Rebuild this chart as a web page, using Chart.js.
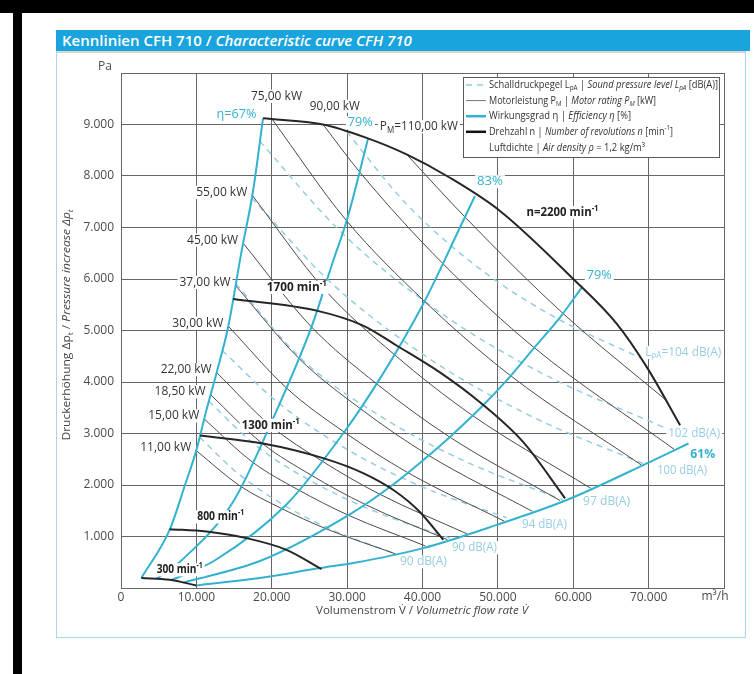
<!DOCTYPE html>
<html>
<head>
<meta charset="utf-8">
<script src="https://cdn.jsdelivr.net/npm/chart.js@4.4.1/dist/chart.umd.min.js"></script>
<style>
  html, body { margin:0; padding:0; background:#fff; }
  body { width:754px; height:674px; position:relative; overflow:hidden; font-family:"Open Sans", sans-serif; }
  .blk { position:absolute; background:#000; }
  #panel { position:absolute; left:56px; top:30px; width:690px; height:608px; border:1px solid #a6d9e7; box-sizing:border-box; background:#fff; }
  #head { position:absolute; left:56px; top:30px; width:694px; height:21px; background:#19a4de; color:#fff; font-weight:600; font-size:15px; line-height:21px; padding-left:6px; box-sizing:border-box; white-space:nowrap; }
  #rule { position:absolute; left:57px; top:51px; width:688px; height:2px; background:#d6d6d6; }
  #chart { position:absolute; left:0; top:0; }
</style>
</head>
<body>
<div class="blk" style="left:0;top:0;width:754px;height:13px"></div>
<div class="blk" style="left:13px;top:0;width:9px;height:674px"></div>
<div id="panel"></div>
<div id="head">Kennlinien CFH 710 / <i>Characteristic curve CFH 710</i></div>
<div id="rule"></div>
<canvas id="chart" width="754" height="674"></canvas>
<script>
// Points are [volumetric flow rate in m³/h, pressure increase in Pa]

// Speed curves (min⁻¹)
const rpm300  = [[2700,194],[6450,161],[10000,50]];
const rpm800  = [[6450,1142],[11330,1095],[16640,968],[21950,741],[26600,368]];
const rpm1300 = [[10500,2960],[18840,2806],[26810,2522],[32120,2232],[36330,1884],[39650,1477],[42750,935]];
const rpm1700 = [[14870,5613],[25940,5386],[32120,5096],[36560,4709],[42310,4186],[47620,3606],[53370,2831],[58910,1742]];
const rpm2200 = [[18840,9121],[26810,9000],[32580,8740],[37890,8419],[43640,7966],[50280,7322],[60010,6000],[65780,5129],[69760,4289],[74180,3160]];

// Efficiency lines
const eta67  = [[2700,194],[6450,1128],[8580,2038],[10000,2677],[11330,3451],[12660,4167],[14200,5057],[15980,6528],[17520,7709],[18840,9121]];
const eta79a = [[4700,177],[7900,520],[14900,1680],[20200,3300],[25300,5080],[28100,6330],[30000,7160],[32800,8740]];
const eta83  = [[6750,155],[12430,534],[21950,1620],[29470,3000],[34500,4100],[40090,5516],[44970,7000],[46960,7613]];
const eta79b = [[8250,105],[18600,534],[30360,1430],[35670,1960],[40090,2483],[43640,2934],[47620,3484],[51170,4031],[54700,4645],[58250,5256],[61140,5837]];
const eta61  = [[10000,50],[18410,194],[26370,387],[31020,490],[40090,774],[49840,1225],[59140,1709],[70200,2450],[75290,2806]];

// Motor rating lines (kW)
const kw11  = [[9980,2668],[15755,1986],[21201,1551],[27222,1149],[36422,663]];
const kw15  = [[11040,3282],[17471,2442],[23510,1907],[30186,1412],[40389,816]];
const kw185 = [[11890,3752],[18736,2808],[25213,2193],[32372,1624],[43314,938]];
const kw22  = [[12690,4184],[19849,3152],[26711,2461],[34296,1823],[45888,1053]];
const kw30  = [[14240,5083],[22011,3876],[29621,3027],[38032,2242],[50887,1295]];
const kw37  = [[15190,5875],[23605,4458],[31766,3481],[40786,2578],[54572,1489]];
const kw45  = [[16200,6697],[25197,5080],[33908,3966],[43536,2938],[58251,1697]];
const kw55  = [[17410,7625],[26941,5807],[36254,4534],[46549,3358],[62282,1939]];
const kw75  = [[19960,9120],[29875,7141],[40203,5576],[51619,4130],[69066,2385]];
const kw90  = [[26810,9000],[31746,8063],[42721,6296],[54853,4663],[73392,2693]];
const kw110 = [[37890,8419],[45676,7197],[58647,5331],[72200,3660]];

// Sound pressure level lines (dB(A))
const db90a = [[10440,2928],[15560,2218],[21980,1577],[28380,1105],[36070,683]];
const db90b = [[11660,3627],[17720,2787],[25820,2028],[33920,1473],[43640,968]];
const db94  = [[13430,4612],[20970,3584],[30410,2655],[39840,1972],[51170,1361]];
const db97  = [[15230,5909],[23920,4449],[34770,3304],[45620,2462],[58650,1708]];
const db100 = [[17340,7573],[27820,5934],[40930,4451],[54040,3362],[69760,2386]];
const db102 = [[18420,8676],[29120,6921],[42500,5332],[55870,4167],[71930,3124]];
const db104 = [[29960,8858],[37740,7476],[47480,6212],[57200,5287],[68870,4470]];

// Axes
const flowTicks = [0,10000,20000,30000,40000,50000,60000,70000,80000];
const flowTickLabels = ['0','10.000','20.000','30.000','40.000','50.000','60.000','70.000','m³/h'];
const pressTicks = [0,1000,2000,3000,4000,5000,6000,7000,8000,9000,10000];
const pressTickLabels = ['','1.000','2.000','3.000','4.000','5.000','6.000','7.000','8.000','9.000','Pa'];

const powerLines = [kw11, kw15, kw185, kw22, kw30, kw37, kw45, kw55, kw75, kw90, kw110];
const powerRatings = ['11,00','15,00','18,50','22,00','30,00','37,00','45,00','55,00','75,00','90,00','110,00'];
const speedLines = [rpm300, rpm800, rpm1300, rpm1700, rpm2200];
const etaLines = [eta67, eta79a, eta83, eta79b, eta61];
const soundLines = [db90a, db90b, db94, db97, db100, db102, db104];

const CYAN = '#33b2cf', DARK = '#262626', GREY = '#4a4a4a', DB = '#96cde0';
const FAM = '"Open Sans", sans-serif';

function series(label, pts, style) {
  return Object.assign({
    label, data: pts.map(p => ({x: p[0], y: p[1]})),
    pointRadius: 0, fill: false, cubicInterpolationMode: 'monotone'
  }, style);
}

const datasets = [];
speedLines.forEach((l, i) => datasets.push(series('n' + i, l, {borderColor: DARK, borderWidth: 2, order: 0})));
etaLines.forEach((l, i) => datasets.push(series('eta' + i, l, {borderColor: CYAN, borderWidth: 2, order: 1})));
powerLines.forEach((l, i) => datasets.push(series(powerRatings[i] + ' kW', l, {borderColor: GREY, borderWidth: 1, order: 2})));
soundLines.forEach((l, i) => datasets.push(series('L' + i, l, {borderColor: DB, borderWidth: 1.5, borderDash: [6, 5], order: 3})));

// ---- rich text helper: runs of text with italic / bold / sub / sup
function fontFor(r, size, weight) {
  const s = (r.sub || r.sup) ? size * 0.68 : size;
  return (r.i ? 'italic ' : '') + (r.b ? 700 : (weight || 400)) + ' ' + s.toFixed(2) + 'px ' + FAM;
}
function drawRich(ctx, runs, px, py, o) {
  const size = o.size || 12;
  let w = 0;
  const m = runs.map(r => { ctx.font = fontFor(r, size, o.weight); const mw = ctx.measureText(r.t).width; w += mw; return mw; });
  const sx = o.width ? o.width / w : 1;
  const W = w * sx;
  const left = o.align === 'right' ? px - W : o.align === 'center' ? px - W / 2 : px;
  if (o.bg) { ctx.fillStyle = o.bg; ctx.fillRect(left - 2, py - size * 0.55, W + 4, size * 1.1); }
  ctx.save();
  ctx.translate(left, py);
  ctx.scale(sx, 1);
  ctx.textBaseline = 'middle';
  ctx.textAlign = 'left';
  let cx = 0;
  runs.forEach((r, k) => {
    ctx.font = fontFor(r, size, o.weight);
    ctx.fillStyle = r.c || o.color || '#333';
    const dy = r.sub ? size * 0.3 : r.sup ? -size * 0.33 : 0;
    ctx.fillText(r.t, cx, dy);
    cx += m[k];
  });
  ctx.restore();
  return W;
}
const minRuns = (pre, b) => [{t: pre + ' min', b: b}, {t: '-1', sup: true, b: b}];

const annotations = {
  id: 'annotations',
  afterDatasetsDraw(chart) {
    const {ctx, chartArea: a, scales: {x, y}} = chart;
    const X = v => x.getPixelForValue(v), Y = v => y.getPixelForValue(v);
    const put = (runs, q, p, o) => drawRich(ctx, runs, X(q), Y(p), Object.assign({bg: '#fff'}, o));

    // motor rating labels just left of where each line leaves the efficiency boundary
    for (let i = 0; i < 8; i++) {
      const s = powerLines[i][0];
      drawRich(ctx, [{t: powerRatings[i] + ' kW'}], X(s[0]) - 5, Y(s[1]) - 3, {align: 'right', width: 51, color: '#333', bg: '#fff'});
    }

    put([{t: powerRatings[8] + ' kW'}], 20624, 9548, {align: 'center', width: 51, color: '#333'});
    put([{t: powerRatings[9] + ' kW'}], 28367, 9354, {align: 'center', width: 50, color: '#333'});
    put([{t: 'P'}, {t: 'M', sub: true}, {t: '=' + powerRatings[10] + ' kW'}], 34343, 8957, {align: 'left', width: 78, color: '#333'});

    // efficiency labels
    put([{t: 'η=67%'}], 17968, 9193, {align: 'right', width: 40, color: CYAN});
    put([{t: '79%'}], 31753, 9030, {align: 'center', width: 25, color: CYAN});
    put([{t: '83%'}], 48951, 7889, {align: 'center', width: 26, color: CYAN});
    put([{t: '79%'}], 63453, 6064, {align: 'center', width: 25, color: CYAN});
    put([{t: '61%', b: true}], 77171, 2599, {align: 'center', width: 25, color: CYAN});

    // speed labels
    put(minRuns('1700', true), 23320, 5837, {align: 'center', width: 60, color: '#222'});
    put(minRuns('1300', true), 19867, 3160, {align: 'center', width: 58, color: '#222'});
    put(minRuns('800', true), 13227, 1381, {align: 'center', width: 47, color: '#222'});
    put(minRuns('300', true), 7782, 354, {align: 'center', width: 46, color: '#222'});
    put(minRuns('n=2200', true), 58579, 7289, {align: 'center', width: 72, color: '#222'});

    // sound pressure labels
    put([{t: '90 dB(A)'}], 40119, 509, {align: 'center', width: 47, color: DB});
    put([{t: '90 dB(A)'}], 46892, 780, {align: 'center', width: 45, color: DB});
    put([{t: '94 dB(A)'}], 56188, 1235, {align: 'center', width: 45, color: DB});
    put([{t: '97 dB(A)'}], 64422, 1670, {align: 'center', width: 47, color: DB});
    put([{t: '100 dB(A)'}], 74449, 2280, {align: 'center', width: 50, color: DB});
    put([{t: '102 dB(A)'}], 76042, 3006, {align: 'center', width: 52, color: DB});
    put([{t: 'L'}, {t: 'pA', sub: true}, {t: '=104 dB(A)'}], 74582, 4573, {align: 'center', width: 76, color: DB});

    // unit labels at the axis ends
    drawRich(ctx, [{t: pressTickLabels[10]}], a.left - 9, Y(10000) - 6, {align: 'right', color: '#4a4a4a', size: 12});
    drawRich(ctx, [{t: flowTickLabels[8]}], X(80000) - 9, a.bottom + 9, {align: 'center', color: '#4a4a4a', size: 12});

    // axis titles
    drawRich(ctx, [{t: 'Volumenstrom V̇ / '}, {t: 'Volumetric flow rate V̇', i: true}], (a.left + a.right) / 2 - 0.5, a.bottom + 23, {align: 'center', width: 212, color: '#444', size: 11.5});
    ctx.save();
    ctx.translate(67, 325);
    ctx.rotate(-Math.PI / 2);
    drawRich(ctx, [{t: 'Druckerhöhung Δp'}, {t: 't', sub: true}, {t: ' / '}, {t: 'Pressure increase Δp', i: true}, {t: 't', sub: true, i: true}], 0, 0, {align: 'center', width: 231, color: '#444', size: 11.5});
    ctx.restore();

    // legend box
    const lx = 463, ly = 77, lw = 256, lh = 80;
    ctx.fillStyle = '#fff';
    ctx.fillRect(lx, ly, lw, lh);
    ctx.strokeStyle = '#5a5a5a';
    ctx.lineWidth = 1;
    ctx.strokeRect(lx + 0.5, ly + 0.5, lw, lh);
    const rows = [
      {style: {c: DB, w: 1.5, dash: [6, 5]}, runs: [{t: 'Schalldruckpegel L'}, {t: 'pA', sub: true}, {t: ' | '}, {t: 'Sound pressure level L', i: true}, {t: 'pA', sub: true, i: true}, {t: ' [dB(A)]'}], w: 229},
      {style: {c: '#777', w: 1}, runs: [{t: 'Motorleistung P'}, {t: 'M', sub: true}, {t: ' | '}, {t: 'Motor rating P', i: true}, {t: 'M', sub: true, i: true}, {t: ' [kW]'}], w: 167},
      {style: {c: CYAN, w: 2.5}, runs: [{t: 'Wirkungsgrad η | '}, {t: 'Efficiency η', i: true}, {t: ' [%]'}], w: 142},
      {style: {c: '#111', w: 2.5}, runs: [{t: 'Drehzahl n | '}, {t: 'Number of revolutions n', i: true}, {t: ' [min'}, {t: '-1', sup: true}, {t: ']'}], w: 184},
      {style: null, runs: [{t: 'Luftdichte | '}, {t: 'Air density ρ', i: true}, {t: ' = 1,2 kg/m³'}], w: 156}
    ];
    rows.forEach((r, k) => {
      const yy = 85 + k * 15.6;
      if (r.style) {
        ctx.save();
        ctx.strokeStyle = r.style.c;
        ctx.lineWidth = r.style.w;
        ctx.setLineDash(r.style.dash || []);
        ctx.beginPath();
        ctx.moveTo(466, yy);
        ctx.lineTo(486, yy);
        ctx.stroke();
        ctx.restore();
      }
      drawRich(ctx, r.runs, 489, yy, {align: 'left', width: r.w, color: '#333', size: 11});
    });
  }
};

new Chart(document.getElementById('chart'), {
  type: 'line',
  data: {datasets},
  options: {
    responsive: false,
    animation: false,
    devicePixelRatio: 1,
    layout: {padding: {left: 0, right: 30, top: 73, bottom: 0}},
    plugins: {legend: {display: false}, tooltip: {enabled: false}},
    scales: {
      x: {
        type: 'linear', min: 0, max: 80000,
        afterBuildTicks: s => { s.ticks = flowTicks.map(v => ({value: v})); },
        afterFit: s => { s.height = 86; },
        ticks: {callback: (v, i) => i === 8 ? '' : flowTickLabels[i], color: '#4a4a4a', font: {family: FAM, size: 12}, padding: 2, maxRotation: 0, autoSkip: false},
        grid: {color: '#666', lineWidth: 1, drawTicks: false},
        border: {color: '#666', width: 1}
      },
      y: {
        type: 'linear', min: 0, max: 10000,
        afterBuildTicks: s => { s.ticks = pressTicks.map(v => ({value: v})); },
        afterFit: s => { s.width = 121; },
        ticks: {callback: (v, i) => i === 10 ? '' : pressTickLabels[i], color: '#4a4a4a', font: {family: FAM, size: 12}, padding: 7, autoSkip: false},
        grid: {color: '#666', lineWidth: 1, drawTicks: false},
        border: {color: '#666', width: 1}
      }
    }
  },
  plugins: [annotations]
});
</script>
</body>
</html>
